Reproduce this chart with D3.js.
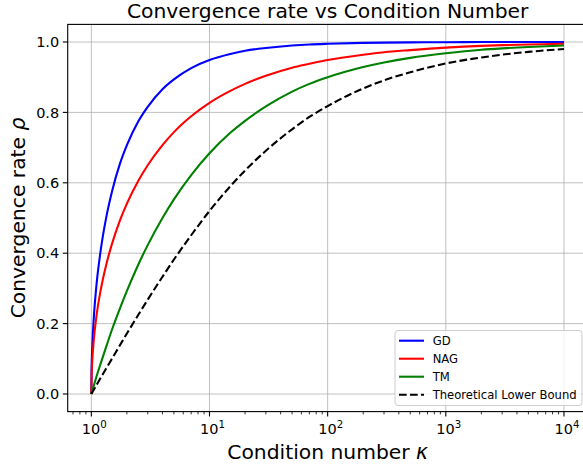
<!DOCTYPE html>
<html>
<head>
<meta charset="utf-8">
<script src="https://cdn.jsdelivr.net/npm/d3@7"></script>
<style>
  body { margin: 0; background: #fff; }
  svg { display: block; font-family: "DejaVu Sans", sans-serif; }
  .grid line { stroke: #b0b0b0; stroke-width: 0.8; }
</style>
</head>
<body>
<svg id="chart"></svg>
<script>
// condition numbers sampled along the curves
const kappa = [1, 1.005, 1.01, 1.02, 1.05, 1.1, 1.2, 1.35, 1.5, 1.75, 2, 2.5, 3, 4, 5, 7, 10,
  15, 20, 30, 50, 70, 100, 200, 300, 500, 1000, 2000, 3000, 5000, 10000];

const gdRate = [0, 0.071, 0.100, 0.140, 0.218, 0.302, 0.408, 0.509, 0.577, 0.655, 0.707, 0.775, 0.816,
  0.866, 0.894, 0.926, 0.949, 0.966, 0.975, 0.983, 0.990, 0.993, 0.995, 0.9975, 0.9983,
  0.999, 0.9995, 0.9998, 0.9998, 0.9999, 0.9999];

const nagRate = [0, 0.050, 0.070, 0.099, 0.155, 0.216, 0.295, 0.373, 0.428, 0.494, 0.541, 0.606, 0.650,
  0.707, 0.744, 0.789, 0.827, 0.861, 0.881, 0.904, 0.927, 0.938, 0.949, 0.964, 0.971,
  0.977, 0.984, 0.989, 0.991, 0.993, 0.995];

const tmRate = [0, 0.0025, 0.005, 0.0099, 0.024, 0.047, 0.087, 0.139, 0.184, 0.244, 0.293, 0.368, 0.423,
  0.500, 0.553, 0.622, 0.684, 0.742, 0.776, 0.817, 0.859, 0.881, 0.900, 0.929, 0.942,
  0.955, 0.968, 0.978, 0.982, 0.986, 0.990];

const lowerBound = [0, 0.0012, 0.0025, 0.0049, 0.012, 0.024, 0.046, 0.075, 0.101, 0.139, 0.172, 0.225, 0.268,
  0.333, 0.382, 0.451, 0.520, 0.590, 0.635, 0.691, 0.752, 0.787, 0.818, 0.868, 0.891,
  0.914, 0.939, 0.956, 0.964, 0.972, 0.980];

const seriesNames = ["GD", "NAG", "TM", "Theoretical Lower Bound"];
const seriesColors = ["#0000ff", "#ff0000", "#008000", "#000000"];
const yTicks = [0, 0.2, 0.4, 0.6, 0.8, 1.0];
const xTickExps = [0, 1, 2, 3, 4];

class RatePlot {
  constructor(_config) {
    this.config = {
      parentElement: _config.parentElement,
      containerWidth: 583,
      containerHeight: 465,
      left: 67.7, right: 587.6, top: 24.4, bottom: 411.6
    };
    this.initVis();
  }

  initVis() {
    let vis = this;
    const c = vis.config;

    vis.svg = d3.select(c.parentElement)
      .attr("width", c.containerWidth)
      .attr("height", c.containerHeight);

    vis.xScale = d3.scaleLog().domain([Math.pow(10, -0.2), Math.pow(10, 4.2)]).range([c.left, c.right]);
    vis.yScale = d3.scaleLinear().domain([-0.05, 1.05]).range([c.bottom, c.top]);

    vis.svg.append("defs").append("clipPath").attr("id", "clip")
      .append("rect")
      .attr("x", c.left).attr("y", c.top)
      .attr("width", c.right - c.left).attr("height", c.bottom - c.top);

    // grid
    const grid = vis.svg.append("g").attr("class", "grid");
    grid.selectAll(".gx").data(xTickExps).join("line")
      .attr("x1", d => vis.xScale(Math.pow(10, d))).attr("x2", d => vis.xScale(Math.pow(10, d)))
      .attr("y1", c.top).attr("y2", c.bottom);
    grid.selectAll(".gy").data(yTicks).join("line")
      .attr("x1", c.left).attr("x2", c.right)
      .attr("y1", d => vis.yScale(d)).attr("y2", d => vis.yScale(d));

    vis.renderVis();
  }

  renderVis() {
    let vis = this;
    const c = vis.config;

    const series = [gdRate, nagRate, tmRate, lowerBound];
    const line = d3.line()
      .x((d, i) => vis.xScale(kappa[i]))
      .y(d => vis.yScale(d))
      .curve(d3.curveMonotoneX);

    vis.svg.append("g").attr("clip-path", "url(#clip)")
      .selectAll("path").data(series).join("path")
      .attr("d", d => line(d))
      .attr("fill", "none")
      .attr("stroke", (d, i) => seriesColors[i])
      .attr("stroke-width", 2.1)
      .attr("stroke-dasharray", (d, i) => i === 3 ? "7.7,3.3" : null);

    // frame
    vis.svg.append("rect")
      .attr("x", c.left).attr("y", c.top)
      .attr("width", c.right - c.left).attr("height", c.bottom - c.top)
      .attr("fill", "none").attr("stroke", "#000").attr("stroke-width", 1.1);

    // x axis: major + minor ticks
    const minor = [];
    for (let e = -1; e <= 4; e++) {
      for (let m = 2; m <= 9; m++) {
        const v = m * Math.pow(10, e);
        if (v > vis.xScale.domain()[0] && v < vis.xScale.domain()[1]) minor.push(v);
      }
    }
    const xAxis = vis.svg.append("g");
    xAxis.selectAll(".minor").data(minor).join("line")
      .attr("x1", d => vis.xScale(d)).attr("x2", d => vis.xScale(d))
      .attr("y1", c.bottom).attr("y2", c.bottom + 2.8)
      .attr("stroke", "#000").attr("stroke-width", 0.8);
    xAxis.selectAll(".major").data(xTickExps).join("line")
      .attr("x1", d => vis.xScale(Math.pow(10, d))).attr("x2", d => vis.xScale(Math.pow(10, d)))
      .attr("y1", c.bottom).attr("y2", c.bottom + 4.9)
      .attr("stroke", "#000").attr("stroke-width", 1.1);
    const xl = xAxis.selectAll("text").data(xTickExps).join("text")
      .attr("x", d => vis.xScale(Math.pow(10, d)) + 3)
      .attr("y", 433.5)
      .attr("text-anchor", "middle")
      .attr("font-size", 14.5);
    xl.append("tspan").text("10");
    xl.append("tspan").attr("dy", -6).attr("font-size", 10.2).text(d => d);

    // y axis
    const yAxis = vis.svg.append("g");
    yAxis.selectAll("line").data(yTicks).join("line")
      .attr("x1", c.left - 4.9).attr("x2", c.left)
      .attr("y1", d => vis.yScale(d)).attr("y2", d => vis.yScale(d))
      .attr("stroke", "#000").attr("stroke-width", 1.1);
    yAxis.selectAll("text").data(yTicks).join("text")
      .attr("x", c.left - 8.5)
      .attr("y", d => vis.yScale(d))
      .attr("dy", "0.36em")
      .attr("text-anchor", "end")
      .attr("font-size", 14.5)
      .text(d => d.toFixed(1));

    // labels
    const midX = (c.left + c.right) / 2;
    vis.svg.append("text")
      .attr("x", midX).attr("y", 18)
      .attr("text-anchor", "middle").attr("font-size", 20.3)
      .text("Convergence rate vs Condition Number");

    const xLab = vis.svg.append("text")
      .attr("x", midX).attr("y", 459)
      .attr("text-anchor", "middle").attr("font-size", 20.3);
    xLab.append("tspan").text("Condition number ");
    xLab.append("tspan").attr("font-style", "italic").text("κ");

    const yLab = vis.svg.append("text")
      .attr("transform", `translate(25,${(c.top + c.bottom) / 2}) rotate(-90)`)
      .attr("text-anchor", "middle").attr("font-size", 20.3);
    yLab.append("tspan").text("Convergence rate ");
    yLab.append("tspan").attr("font-style", "italic").text("ρ");

    // legend
    const lg = vis.svg.append("g");
    lg.append("rect")
      .attr("x", 395).attr("y", 330.5)
      .attr("width", 187).attr("height", 75)
      .attr("rx", 3)
      .attr("fill", "#fff").attr("fill-opacity", 0.8)
      .attr("stroke", "#cccccc").attr("stroke-width", 1);
    const rows = lg.selectAll(".row").data(seriesNames).join("g")
      .attr("transform", (d, i) => `translate(0,${340.7 + i * 18})`);
    rows.append("line")
      .attr("x1", 399).attr("x2", 424)
      .attr("stroke", (d, i) => seriesColors[i])
      .attr("stroke-width", 2.1)
      .attr("stroke-dasharray", (d, i) => i === 3 ? "7.7,3.3" : null);
    rows.append("text")
      .attr("x", 432.7).attr("dy", "0.36em")
      .attr("font-size", 11.6)
      .text(d => d);
  }
}

new RatePlot({ parentElement: "#chart" });
</script>
</body>
</html>
